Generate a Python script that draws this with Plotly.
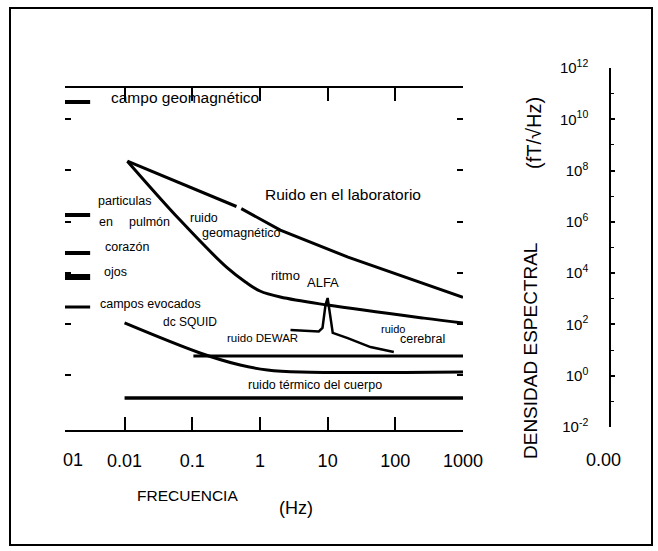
import plotly.graph_objects as go

W, H = 658, 551
FONT = "Liberation Sans, Arial, Helvetica, sans-serif"

# ---------------- data (frequency in Hz, spectral density in fT/sqrt(Hz)) ----------------
lab_freq = [0.011, 0.45, None, 0.53, 2.0, 20, 190, 1000]
lab_val = [2.3e8, 3.9e6, None, 3.2e6, 4.7e5, 4.1e4, 5.2e3, 1.1e3]

geo_freq = [0.011, 0.066, 0.33, 0.61, 1.0, 2.0, 10, 264, 1000]
geo_val = [2.3e8, 1.15e6, 1.55e4, 4.4e3, 1.95e3, 1.13e3, 550, 170, 110]

brain_freq = [2.83, 7.4, 8.4, 9.3, 10, 10.7, 11.9, 19.8, 43, 95]
brain_val = [58, 51, 70, 550, 1040, 355, 45, 28, 12.6, 8.1]

squid_freq = [0.01, 0.13, 0.51, 1.29, 4.0, 1000]
squid_val = [110, 7.4, 2.5, 1.6, 1.33, 1.33]

dewar_freq = [0.104, 1000]
dewar_val = [5.6, 5.6]

thermal_freq = [0.01, 1000]
thermal_val = [0.13, 0.13]

source_names = ["campo geomagnético", "partículas en pulmón", "corazón", "ojos", "campos evocados"]
source_levels = [4.7e10, 1.8e6, 5.9e4, 6.9e3, 4.6e2]
source_widths = [4, 4, 4, 6, 3]
source_span = [0.001, 0.0031]

x_ticks = [0.01, 0.1, 1, 10, 100, 1000]
x_ticktext = ["0.01", "0.1", "1", "10", "100", "1000"]
y_main_ticks = [1, 1e2, 1e4, 1e6, 1e8, 1e10]
y_right_major_exps = list(range(-2, 13, 2))
y_right_minor_exps = list(range(-1, 12, 2))

# ---------------- figure ----------------
fig = go.Figure()

def line(xs, ys, width=3, shape="linear", name=""):
    fig.add_trace(go.Scatter(x=xs, y=ys, mode="lines", name=name,
                             line=dict(color="black", width=width, shape=shape),
                             connectgaps=False, hoverinfo="skip"))

line(lab_freq, lab_val, name="laboratorio")
line(geo_freq, geo_val, shape="spline", name="geomagnetico")
line(brain_freq, brain_val, width=2.5, name="cerebral")
line(squid_freq, squid_val, shape="spline", name="SQUID")
line(dewar_freq, dewar_val, name="DEWAR")
line(thermal_freq, thermal_val, width=3.5, name="termico")

for nm, lv, wd in zip(source_names, source_levels, source_widths):
    line(source_span, [lv, lv], width=wd, name=nm)

# empty trace to register the right-hand axis subplot
fig.add_trace(go.Scatter(x=[], y=[], xaxis="x2", yaxis="y2", showlegend=False))

def px(x):
    return x / W

def py(y):
    return 1 - y / H

fig.update_layout(
    template="none",
    width=W, height=H, autosize=False,
    margin=dict(l=0, r=0, t=0, b=0, pad=0, autoexpand=False),
    paper_bgcolor="white", plot_bgcolor="white",
    showlegend=False,
    font=dict(family=FONT, color="black"),
    xaxis=dict(
        type="log", range=[-2.88, 3.0], domain=[px(65), px(463)], automargin=False,
        showgrid=False, zeroline=False,
        showline=True, linecolor="black", linewidth=1.5, mirror="ticks",
        ticks="inside", ticklen=13, tickwidth=1.5, tickcolor="black",
        tickvals=x_ticks, ticktext=x_ticktext,
        tickfont=dict(size=18, family=FONT), ticklabelstandoff=14,
    ),
    yaxis=dict(
        type="log", range=[-2.14, 11.22], domain=[py(430), py(88)], automargin=False,
        showgrid=False, zeroline=False, showline=False,
        ticks="inside", ticklen=6, tickwidth=1.5, tickcolor="black",
        mirror="ticks", tickvals=y_main_ticks, showticklabels=False,
    ),
    yaxis3=dict(
        type="log", range=[-2.14, 11.22], overlaying="y", side="right", automargin=False,
        showgrid=False, zeroline=False, showline=True, linecolor="black",
        linewidth=1.5, ticks="", showticklabels=False,
    ),
    xaxis2=dict(domain=[px(611), px(650)], anchor="y2", visible=False, range=[0, 1],
                automargin=False),
    yaxis2=dict(
        type="log", range=[-2, 12], domain=[py(427), py(68)], anchor="x2",
        side="left", automargin=False, showgrid=False, zeroline=False,
        showline=True, linecolor="black", linewidth=1.5,
        ticks="inside", ticklen=4, tickwidth=1.5, tickcolor="black",
        tickvals=[10.0 ** e for e in y_right_major_exps],
        ticktext=["10<sup>%d</sup>" % e for e in y_right_major_exps],
        minor=dict(tickvals=[10.0 ** e for e in y_right_minor_exps], ticks="inside",
                   ticklen=3, tickwidth=1.2, tickcolor="black", showgrid=False),
        tickfont=dict(size=15, family=FONT), ticklabelstandoff=18,
    ),
)

def ann(text, x, y, size=12.5, **kw):
    return dict(text=text, x=px(x), y=py(y), xref="paper", yref="paper",
                showarrow=False, xanchor="center", yanchor="middle",
                font=dict(size=size, family=FONT, color="black"), **kw)

annotations = [
    ann("campo geomagnético", 185, 97, 15.5),
    ann("Ruido en el laboratorio", 343, 195, 15.5),
    ann("particulas", 125, 201),
    ann("en", 106, 222),
    ann("pulmón", 149, 222),
    ann("ruido", 204, 218),
    ann("geomagnético", 241, 233),
    ann("corazón", 127, 247),
    ann("ojos", 115, 272),
    ann("ritmo", 285, 275, 13),
    ann("ALFA", 323, 282, 13),
    ann("campos evocados", 150, 304),
    ann("dc SQUID", 190, 322, 12),
    ann("ruido DEWAR", 262, 338, 11.5),
    ann("ruido", 393, 329, 11),
    ann("cerebral", 422, 339),
    ann("ruido térmico del cuerpo", 315, 385),
    ann("FRECUENCIA", 187, 495, 15.5),
    ann("(Hz)", 296, 508, 18),
    ann("01", 73, 460, 18),
    ann("0.00", 603, 460, 18),
    ann("DENSIDAD ESPECTRAL", 530, 351, 19, textangle=-90),
    ann("(fT/√Hz)", 534, 133, 20, textangle=-90),
]
fig.update_layout(annotations=annotations)

fig.add_shape(type="rect", xref="paper", yref="paper",
              x0=px(10), x1=px(652), y0=py(545), y1=py(8),
              line=dict(color="black", width=2))

fig.write_html(
    "out.html",
    config={"displayModeBar": False},
    post_script="document.body.style.margin='0px';document.body.style.overflow='hidden';",
)
